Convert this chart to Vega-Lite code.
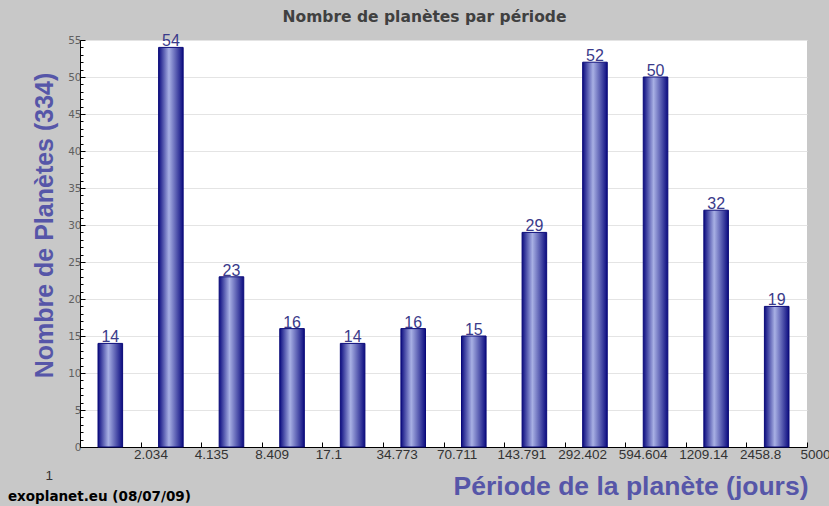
{
  "$schema": "https://vega.github.io/schema/vega-lite/v6.json",
  "width": 727,
  "height": 407,
  "autosize": {"type": "none"},
  "padding": {"left": 80, "top": 40, "right": 22, "bottom": 59},
  "background": "#c8c8c8",
  "config": {
    "view": {"fill": "white", "stroke": null}
  },
  "title": {
    "text": "Nombre de planètes par période",
    "font": "DejaVu Sans",
    "fontSize": 15.5,
    "fontWeight": "bold",
    "color": "#404040",
    "anchor": "middle",
    "dx": -19,
    "offset": 8
  },
  "data": {
    "values": [
      {"lo": 1, "hi": 2.034, "count": 14},
      {"lo": 2.034, "hi": 4.135, "count": 54},
      {"lo": 4.135, "hi": 8.409, "count": 23},
      {"lo": 8.409, "hi": 17.1, "count": 16},
      {"lo": 17.1, "hi": 34.773, "count": 14},
      {"lo": 34.773, "hi": 70.711, "count": 16},
      {"lo": 70.711, "hi": 143.791, "count": 15},
      {"lo": 143.791, "hi": 292.402, "count": 29},
      {"lo": 292.402, "hi": 594.604, "count": 52},
      {"lo": 594.604, "hi": 1209.14, "count": 50},
      {"lo": 1209.14, "hi": 2458.8, "count": 32},
      {"lo": 2458.8, "hi": 5000, "count": 19}
    ]
  },
  "layer": [
    {
      "mark": {
        "type": "bar",
        "xOffset": 18,
        "x2Offset": -18,
        "color": {
          "gradient": "linear",
          "x1": 0, "x2": 1, "y1": 0, "y2": 0,
          "stops": [
            {"offset": 0, "color": "#0c0c80"},
            {"offset": 0.42, "color": "#a8b0e4"},
            {"offset": 1, "color": "#0c0c80"}
          ]
        },
        "stroke": "#0a0a78",
        "strokeWidth": 1
      },
      "encoding": {
        "x": {
          "field": "lo",
          "type": "quantitative",
          "scale": {"type": "log", "domain": [1, 5000]},
          "axis": {
            "values": [1, 2.034, 4.135, 8.409, 17.1, 34.773, 70.711, 143.791, 292.402, 594.604, 1209.14, 2458.8, 5000],
            "labelExpr": "'' + datum.value",
            "grid": false,
            "domainColor": "black",
            "domainWidth": 1,
            "tickColor": "black",
            "tickSize": -5,
            "labelAlign": "left",
            "labelOffset": {"condition": {"test": "datum.value == 1", "value": -35}, "value": -7},
            "labelPadding": {"condition": {"test": "datum.value == 1", "value": 26}, "value": 5},
            "labelFont": "Liberation Sans",
            "labelFontSize": 13.5,
            "labelColor": "#333333",
            "labelFlush": false,
            "labelOverlap": false,
            "title": "Période de la planète (jours)",
            "titleFont": "Liberation Sans",
            "titleFontSize": 26.5,
            "titleFontWeight": "bold",
            "titleColor": "#5656a8",
            "titleAlign": "right",
            "titleAnchor": "end",
            "titleX": 728,
            "titleY": 47,
            "titleBaseline": "alphabetic"
          }
        },
        "x2": {"field": "hi"},
        "y": {
          "field": "count",
          "type": "quantitative",
          "scale": {"domain": [0, 55]},
          "axis": {
            "values": [0, 5, 10, 15, 20, 25, 30, 35, 40, 45, 50, 55],
            "grid": true,
            "gridColor": "#e4e4e4",
            "domainColor": "black",
            "tickColor": "black",
            "tickSize": -5,
            "labelFont": "DejaVu Sans",
            "labelFontSize": 10.5,
            "labelColor": "#606060",
            "labelPadding": 4,
            "title": "Nombre de Planètes (334)",
            "titleFont": "Liberation Sans",
            "titleFontSize": 25,
            "titleFontWeight": "bold",
            "titleColor": "#5656a8",
            "titleAngle": -90,
            "titleX": -36,
            "titleY": 185,
            "titleAlign": "center",
            "titleBaseline": "middle"
          }
        },
        "y2": {"datum": 0}
      }
    },
    {
      "mark": {
        "type": "text",
        "dx": 30.3,
        "dy": -1,
        "baseline": "alphabetic",
        "align": "center",
        "font": "Liberation Sans",
        "fontSize": 16,
        "color": "#3a3a8a"
      },
      "encoding": {
        "x": {"field": "lo", "type": "quantitative", "scale": {"type": "log", "domain": [1, 5000]}},
        "y": {
          "field": "count",
          "type": "quantitative",
          "scale": {"domain": [0, 55]},
          "axis": {
            "orient": "left",
            "values": [0,1,2,3,4,5,6,7,8,9,10,11,12,13,14,15,16,17,18,19,20,21,22,23,24,25,26,27,28,29,30,31,32,33,34,35,36,37,38,39,40,41,42,43,44,45,46,47,48,49,50,51,52,53,54,55],
            "labels": false,
            "domain": false,
            "grid": false,
            "tickColor": "black",
            "tickSize": -3,
            "title": null
          }
        },
        "text": {"field": "count", "type": "quantitative"}
      }
    },
    {
      "data": {"values": [{"note": "exoplanet.eu (08/07/09)"}]},
      "mark": {
        "type": "text",
        "align": "left",
        "baseline": "alphabetic",
        "font": "DejaVu Sans",
        "fontSize": 13.5,
        "fontWeight": "bold",
        "color": "black"
      },
      "encoding": {
        "x": {"datum": 0.43, "type": "quantitative", "scale": {"type": "log", "domain": [1, 5000]}},
        "y": {"datum": -7.3, "type": "quantitative", "scale": {"domain": [0, 55]}, "axis": null},
        "text": {"field": "note"}
      }
    }
  ],
  "resolve": {"axis": {"y": "independent"}}
}
